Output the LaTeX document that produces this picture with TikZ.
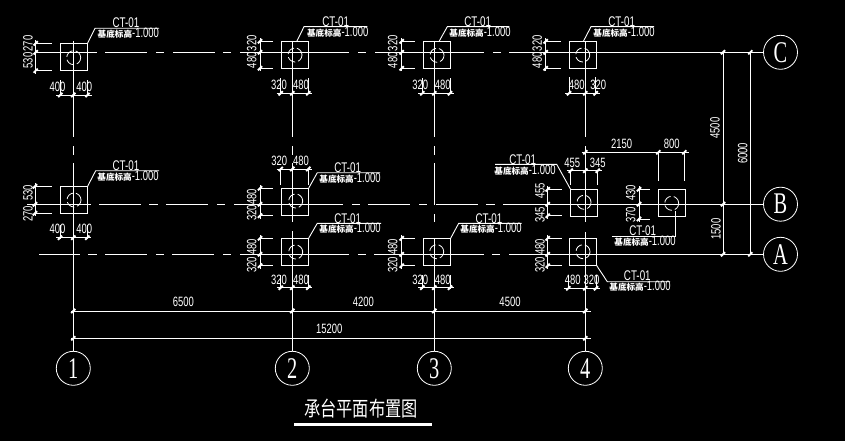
\documentclass[tikz,border=0pt]{standalone}
\usepackage{fontspec}
\setmainfont[FakeStretch=0.7]{Liberation Sans}
\newfontfamily\bubfont[FakeStretch=0.68]{Liberation Serif}
\newfontfamily\cjkfont{Noto Sans CJK SC}
\newcount\txtno
\tikzset{
  ln/.style={draw=white,line width=0.9pt},
  tk/.style={draw=white,line width=1.9pt},
  pile/.style={draw=white,line width=0.9pt,minimum width=27pt,minimum height=27pt,inner sep=0pt,outer sep=0pt},
  bub/.style={draw=white,line width=0.8pt,circle,minimum size=34pt,inner sep=0pt,outer sep=0pt,text=white,font=\bubfont\fontsize{30}{30}\selectfont},
  dimt/.style={text=white,inner sep=0pt,font=\fontsize{13.5}{13.5}\selectfont},
  ctt/.style={text=white,inner sep=0pt,font=\fontsize{14}{14}\selectfont},
  subt/.style={text=white,inner sep=0pt},
  core/.style={draw=white,line width=0.8pt,dash pattern=on 9pt off 3pt}
}
% tick mark
\newcommand{\tick}[2]{\draw[tk] (#1,#2) +(-2.1,2.1) -- +(2.1,-2.1);}
% text helpers
\newcommand{\dt}[3]{\global\advance\txtno by 1 \node[dimt] (dt\the\txtno) at (#1,#2) {#3};}
\newcommand{\dr}[3]{\global\advance\txtno by 1 \node[dimt,rotate=90] (dt\the\txtno) at (#1,#2) {#3};}
% vertical dimension: x, xext, y1,y2,y3
\newcommand{\dimv}[5]{
  \draw[ln] (#1,#3-3) -- (#1,#5+3);
  \draw[ln] (#1-1,#3) -- (#2,#3);
  \draw[ln] (#1-1,#4) -- (#2,#4);
  \draw[ln] (#1-1,#5) -- (#2,#5);
  \tick{#1}{#3}\tick{#1}{#4}\tick{#1}{#5}
}
% horizontal dimension: y, ytop, x1,x2,x3
\newcommand{\dimh}[5]{
  \draw[ln] (#3-4,#1) -- (#5+4,#1);
  \draw[ln] (#3,#1+1) -- (#3,#2);
  \draw[ln] (#4,#1+1) -- (#4,#2);
  \draw[ln] (#5,#1+1) -- (#5,#2);
  \tick{#3}{#1}\tick{#4}{#1}\tick{#5}{#1}
}
% pile label: x,y of CT-01, x,y of elevation
\newcommand{\plab}[4]{
  \global\advance\txtno by 1
  \node[ctt] (ct\the\txtno) at (#1,#2) {CT-01};
  \node[subt] (el\the\txtno) at (#3,#4) {{\cjkfont\bfseries\fontsize{8.6}{9}\selectfont 基底标高}{\fontsize{13.5}{13.5}\selectfont -1.000}};
}
\begin{document}
\begin{tikzpicture}[x=1pt,y=-1pt]
\useasboundingbox (0,0) rectangle (845,441);
\fill[black] (0,0) rectangle (845,441);

% axis bubbles
\node[bub] (n1) at (73.3,368.3) {1};
\node[bub] (n2) at (292.3,368.3) {2};
\node[bub] (n3) at (434.3,368.3) {3};
\node[bub] (n4) at (585.3,368.3) {4};
\node[bub] (nC) at (780.5,52.3) {C};
\node[bub] (nB) at (780.5,204.2) {B};
\node[bub] (nA) at (780.5,254.3) {A};

% piles
\node[pile] (p1C) at (74,56.9) {};
\node[pile] (p2C) at (295,55) {};
\node[pile] (p3C) at (437,55) {};
\node[pile] (p4C) at (583,55) {};
\node[pile] (p1B) at (74,200) {};
\node[pile] (p2B) at (295,202) {};
\node[pile] (p2A) at (295,252) {};
\node[pile] (p3A) at (437,252) {};
\node[pile] (p4A) at (583,251.8) {};
\node[pile] (p4B) at (584,202.7) {};
\node[pile] (pE) at (671.5,203) {};

% pile cores
\foreach \cx/\cy in {73.7/57.7,295/55,437/55.3,582.7/55,74/200,295.7/201,295.7/252,436.7/251.7,584/202.3,583/251.7,671.7/203.3}
  \draw[core] (\cx,\cy) circle[radius=7pt];

% horizontal axes
\foreach \a/\b in {35/97,105/147,156/164,173/215,223/231,240/349,358/366,375/484,493/501}
  \draw[ln] (\a,52.3) -- (\b,52.3);
\coordinate (cS) at (509,52.3);
\draw[ln] (cS) -- (nC.west);
\foreach \a/\b in {27/91,99/141,149/158,166/208,217/225,234/343,352/360,368/410,419/427,436/478,486/495}
  \draw[ln] (\a,204.3) -- (\b,204.3);
\coordinate (bS) at (503,204.2);
\draw[ln] (bS) -- (nB.west);
\foreach \a/\b in {39/80,88/97,105/147,156/164,172/214,223/231,240/349,358/366,374/484,492/500}
  \draw[ln] (\a,254.3) -- (\b,254.3);
\coordinate (aS) at (509,254.3);
\draw[ln] (aS) -- (nA.west);

% vertical axes
\foreach \a/\b in {41/137,146/155} {
  \draw[ln] (73.3,\a) -- (73.3,\b);
  \draw[ln] (292.3,\a) -- (292.3,\b);
  \draw[ln] (434.3,\a) -- (434.3,\b);
}
\draw[ln] (585.3,41) -- (585.3,137);
\coordinate (v1S) at (73.3,163);
\draw[ln] (v1S) -- (n1.north);
\draw[ln] (292.3,163) -- (292.3,222);
\coordinate (v2S) at (292.3,231);
\draw[ln] (v2S) -- (n2.north);
\draw[ln] (434.3,163) -- (434.3,205);
\draw[ln] (434.3,214) -- (434.3,222);
\coordinate (v3S) at (434.3,238);
\draw[ln] (v3S) -- (n3.north);
\draw[ln] (585.3,146) -- (585.3,222);
\coordinate (v4S) at (585.3,232);
\draw[ln] (v4S) -- (n4.north);

% leaders
\draw[ln] (p1C.north east) -- (95,28.3) -- (159,28.3);
\draw[ln] (296.7,41.5) -- (304,26.7) -- (367.3,26.7);
\draw[ln] (439,41.5) -- (447.3,26.7) -- (509.3,26.7);
\draw[ln] (583.3,41.5) -- (591,26.7) -- (654,26.7);
\draw[ln] (p1B.north east) -- (95.7,170.7) -- (159,170.7);
\draw[ln] (p2B.north east) -- (317.3,172.7) -- (380,172.7);
\draw[ln] (p2A.north east) -- (317.3,223.3) -- (381,223.3);
\draw[ln] (p3A.north east) -- (458.7,223.3) -- (521.7,223.3);
\draw[ln] (p4B.north west) -- (556.7,164.3) -- (495,164.3);
\draw[ln] (675.7,211) -- (675.7,236) -- (612.3,236);
\draw[ln] (p4A.south east) -- (607.3,281.7) -- (670,281.7);

\plab{126}{23}{128.3}{33.3}
\plab{335.7}{21.7}{337.7}{32}
\plab{477.7}{21.7}{480}{32}
\plab{621.7}{21.7}{624}{32}
\plab{126}{165.7}{128}{176.7}
\plab{347.7}{168}{350}{178.3}
\plab{347.7}{218.3}{350}{228.7}
\plab{489}{218.3}{491}{228.7}
\plab{522.7}{159.3}{525}{170}
\plab{642.7}{231}{645}{241.7}
\plab{637.3}{276}{640}{286.7}

% vertical dims
\dimv{35.7}{52}{43.3}{52.3}{70.7}
\dr{28}{43.5}{270}\dr{28}{60.5}{530}
\dimv{260}{273}{41.3}{52.3}{68.3}
\dr{251.7}{43.3}{320}\dr{251.7}{60.3}{480}
\dimv{401.7}{415}{41.3}{52.3}{68.3}
\dr{392.7}{43.3}{320}\dr{392.7}{60.3}{480}
\dimv{545.7}{561}{41.3}{52.3}{68.3}
\dr{537.3}{43.3}{320}\dr{537.3}{60.3}{480}
\dimv{35}{52}{186.3}{204.3}{213.3}
\dr{28}{192.7}{530}\dr{28}{214}{270}
\dimv{260}{273}{188.3}{204.3}{215.7}
\dr{251.7}{197}{480}\dr{251.7}{213}{320}
\dimv{260}{273}{238.3}{254.3}{265.7}
\dr{251.7}{247}{480}\dr{251.7}{265}{320}
\dimv{401.7}{415}{238.3}{254.3}{265.7}
\dr{392.7}{247}{480}\dr{392.7}{265}{320}
\dimv{547.7}{561.7}{189.3}{204.2}{215.7}
\dr{540}{191}{455}\dr{540}{215}{345}
\dimv{547.7}{561.7}{238.3}{254.3}{265.7}
\dr{540}{247}{480}\dr{540}{265}{320}
\dimv{639}{650}{189.3}{204.2}{219}
\dr{630.7}{193}{430}\dr{630.7}{215}{370}

% horizontal dims
\dimh{95}{80}{60.3}{73.3}{87.5}
\dt{57.5}{87}{400}\dt{84.3}{87}{400}
\dimh{93.3}{78}{280.7}{292.3}{308.3}
\dt{279}{84.7}{320}\dt{301}{84.7}{480}
\dimh{93.3}{78}{422.3}{434.3}{450}
\dt{420.3}{84.7}{320}\dt{442.7}{84.7}{480}
\dimh{93.3}{77}{569}{585.3}{595.7}
\dt{576.7}{84.7}{480}\dt{598.3}{84.7}{320}
\dimh{237.7}{225}{60}{73.3}{87.3}
\dt{57.5}{229.3}{400}\dt{84.3}{229.3}{400}
\dimh{169}{185}{280.7}{292.3}{308.3}
\dt{279.3}{161}{320}\dt{301}{161}{480}
\dimh{287.7}{275}{280.7}{292.3}{308.3}
\dt{279}{280}{320}\dt{301}{280}{480}
\dimh{287.7}{275}{422.3}{434.3}{450}
\dt{420.3}{280}{320}\dt{442.7}{280}{480}
\dimh{170.7}{185}{570.7}{585.3}{597.7}
\dt{572.3}{162.7}{455}\dt{597.7}{162.7}{345}
\dimh{288.3}{275}{568.3}{585.3}{596}
\dt{572.7}{280}{480}\dt{591.5}{280}{320}
% 2150 / 800
\draw[ln] (581.7,152.3) -- (689.3,152.3);
\draw[ln] (658.3,152.3) -- (658.3,180.7);
\draw[ln] (684.3,152.3) -- (684.3,180.7);
\tick{585.3}{152.3}\tick{658.3}{152.3}\tick{684.3}{152.3}
\dt{621.7}{144.3}{2150}\dt{671.7}{144.3}{800}

% overall dims bottom
\draw[ln] (71,311) -- (591,311);
\draw[ln] (71,338.3) -- (591,338.3);
\foreach \vx in {73.3,292.3,434.3,585.3} {\tick{\vx}{311}}
\foreach \vx in {73.3,585.3} {\tick{\vx}{338.3}}
\dt{183.3}{302.3}{6500}\dt{363.3}{302.3}{4200}\dt{510}{302.3}{4500}\dt{329.3}{329.3}{15200}

% overall dims right
\draw[ln] (723,52.3) -- (723,254.3);
\draw[ln] (750.3,52.3) -- (750.3,254.3);
\tick{723}{52.3}\tick{723}{204.2}\tick{723}{254.3}
\tick{750.3}{52.3}\tick{750.3}{254.3}
\dr{715}{128}{4500}\dr{716}{229}{1500}\dr{742.7}{153.3}{6000}

% title
\node[text=white,inner sep=0pt] (title) at (361,408.3) {\cjkfont\fontsize{16.2}{20}\selectfont\scalebox{1}[1.28]{承台平面布置图}};
\coordinate (ulL) at (294,424.3);
\coordinate (ulR) at (431.7,424.3);
\draw[draw=white,line width=2.4pt] (ulL) -- (ulR);
\end{tikzpicture}
\end{document}
